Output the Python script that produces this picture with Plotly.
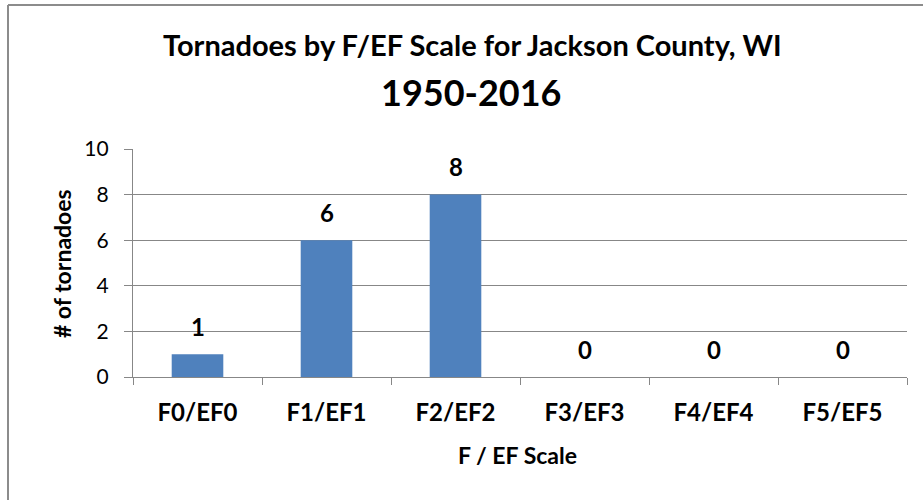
import plotly.graph_objects as go

categories = ["F0/EF0", "F1/EF1", "F2/EF2", "F3/EF3", "F4/EF4", "F5/EF5"]
counts = [1, 6, 8, 0, 0, 0]
y_ticks = [0, 2, 4, 6, 8, 10]
title_line1 = "Tornadoes by F/EF Scale for Jackson County, WI"
title_line2 = "1950-2016"
x_title = "F / EF Scale"
y_title = "# of tornadoes"

FONT = "Lato"
GRID = "#878787"

fig = go.Figure(go.Bar(
    x=categories, y=counts,
    marker=dict(color="#4F81BD", line=dict(width=0)),
    hoverinfo="x+y",
))

annotations = [
    dict(x=c, y=v, xref="x", yref="y", text=f"<b>{v}</b>", showarrow=False,
         yanchor="middle", yshift=28,
         font=dict(family=FONT, size=24, color="black"))
    for c, v in zip(categories, counts)
]
annotations += [
    dict(x=0.439, y=1.46, xref="paper", yref="paper", text=f"<b>{title_line1}</b>",
         showarrow=False, xanchor="center", yanchor="middle",
         font=dict(family=FONT, size=29, color="black")),
    dict(x=0.437, y=1.252, xref="paper", yref="paper", text=f"<b>{title_line2}</b>",
         showarrow=False, xanchor="center", yanchor="middle",
         font=dict(family=FONT, size=36, color="black")),
    dict(x=0.497, y=-0.34, xref="paper", yref="paper", text=f"<b>{x_title}</b>",
         showarrow=False, xanchor="center", yanchor="middle",
         font=dict(family=FONT, size=23, color="black")),
    dict(x=-0.0915, y=0.496, xref="paper", yref="paper", text=f"<b>{y_title}</b>",
         showarrow=False, xanchor="center", yanchor="middle", textangle=-90,
         font=dict(family=FONT, size=23, color="black")),
]

fig.update_layout(
    width=923, height=500,
    margin=dict(l=133, r=16, t=149, b=123, pad=0),
    paper_bgcolor="white", plot_bgcolor="white",
    bargap=0.6,
    showlegend=False,
    font=dict(family=FONT, color="black"),
    xaxis=dict(
        tickfont=dict(family=FONT, size=24, weight="bold"),
        showline=True, linecolor=GRID, linewidth=1.3,
        ticks="outside", ticklen=7, tickcolor=GRID, tickwidth=1.3,
        tickson="boundaries", showgrid=False, ticklabelstandoff=14,
    ),
    yaxis=dict(
        range=[0, 10], tickvals=y_ticks,
        tickfont=dict(family=FONT, size=21),
        showline=True, linecolor=GRID, linewidth=1.3,
        ticks="outside", ticklen=8, tickcolor=GRID, tickwidth=1.3,
        showgrid=True, gridcolor=GRID, gridwidth=1.3, zeroline=False,
        ticklabelstandoff=11,
    ),
    annotations=annotations,
    shapes=[
        dict(type="line", xref="paper", yref="paper",
             x0=-0.1615, x1=-0.1615, y0=1.6316, y1=-0.7,
             line=dict(color="#8c8c8c", width=2)),
        dict(type="line", xref="paper", yref="paper",
             x0=-0.1615, x1=1.1, y0=1.6316, y1=1.6316,
             line=dict(color="#8c8c8c", width=2)),
    ],
)

fig.write_html("out.html", config={"displayModeBar": False},
               post_script="document.body.style.margin='0';")
